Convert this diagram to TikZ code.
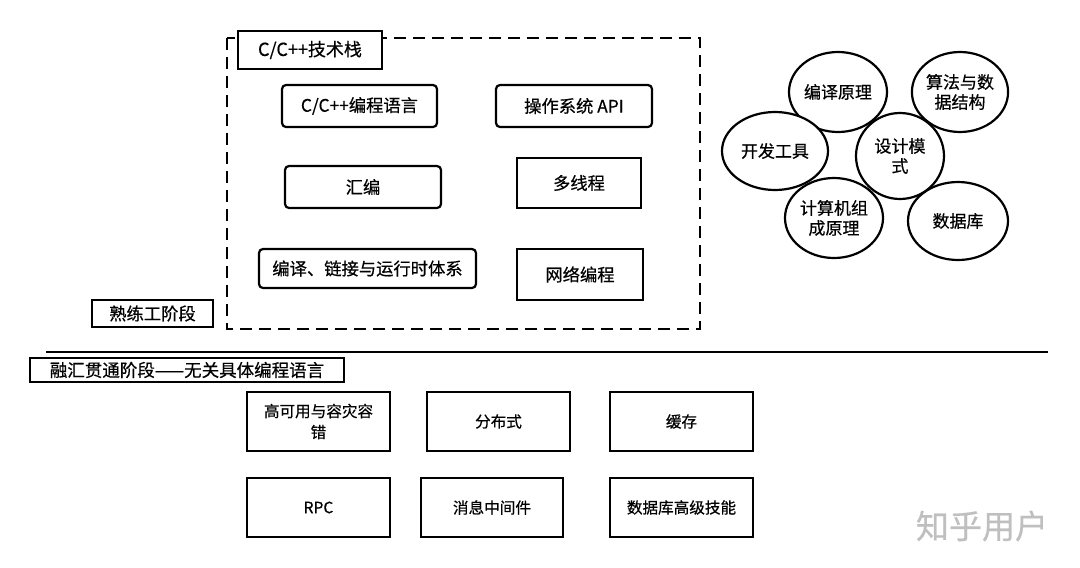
\documentclass[tikz,border=0pt]{standalone}
\usepackage{fontspec}
\setmainfont{Noto Sans CJK SC}[FakeBold=0.5]
\usetikzlibrary{shapes.geometric}

\tikzset{
  box/.style={draw=black, line width=2.2pt, fill=white, inner sep=0pt,
    font=\fontsize{17.3}{21}\selectfont, align=center},
  roundbox/.style={box, rounded corners=4pt},
  lowbox/.style={box, minimum width=143pt, minimum height=59pt,
    font=\fontsize{15.6}{21}\selectfont},
  topic/.style={draw=black, line width=2.2pt, fill=white, ellipse, inner sep=0pt,
    font=\fontsize{17}{20}\selectfont, align=center}
}

\begin{document}
\begin{tikzpicture}[x=1pt, y=-1pt]
\useasboundingbox (0,0) rectangle (1080,568);

% c/c++ stack frame
\draw[line width=2.2pt, dash pattern=on 12pt off 7pt] (227,38) rectangle (700,329);
\node[box, minimum width=144pt, minimum height=38pt, font=\fontsize{18}{21}\selectfont] (stack) at (310,50) {C/C++技术栈};

\node[roundbox, minimum width=155pt, minimum height=42pt] (lang)   at (359.5,106) {C/C++编程语言};
\node[roundbox, minimum width=156pt, minimum height=42pt] (osapi)  at (574,106)   {操作系统 API};
\node[roundbox, minimum width=156pt, minimum height=42pt] (asm)    at (363,187)   {汇编};
\node[box,      minimum width=124pt, minimum height=50pt] (thread) at (579,183)   {多线程};
\node[roundbox, minimum width=217pt, minimum height=39pt] (link)   at (367.5,268.5) {编译、链接与运行时体系};
\node[box,      minimum width=126pt, minimum height=51pt] (net)    at (580,274.5) {网络编程};

\node[box, minimum width=121pt, minimum height=27pt] (skilled) at (152.5,313.5) {熟练工阶段};

% basics
\node[topic, minimum width=98pt,  minimum height=80pt] (compiler) at (838,92)  {编译原理};
\node[topic, minimum width=94pt,  minimum height=80pt] (algo)     at (960,92)  {算法与数\\据结构};
\node[topic, minimum width=106pt, minimum height=78pt] (tools)    at (775,151) {开发工具};
\node[topic, minimum width=98pt,  minimum height=80pt] (arch)     at (834,218) {计算机组\\成原理};
\node[topic, minimum width=100pt, minimum height=78pt] (dbase)    at (958,221) {数据库};
\node[topic, minimum width=88pt,  minimum height=86pt] (pattern)  at (900,156) {设计模\\式};

% separator
\coordinate (sepL) at (46,352);
\coordinate (sepR) at (1048,352);
\draw[line width=2.2pt] (sepL) -- (sepR);

\node[box, minimum width=314pt, minimum height=24pt, font=\fontsize{17.5}{21}\selectfont] (master) at (187,370) {融汇贯通阶段——无关具体编程语言};

\node[lowbox] (ha)    at (318.5,421.5) {高可用与容灾容\\错};
\node[lowbox] (dist)  at (498.5,421.5) {分布式};
\node[lowbox] (cache) at (681.5,421.5) {缓存};
\node[lowbox] (rpc)   at (318.5,507.5) {RPC};
\node[lowbox, minimum width=142pt] (mq) at (492,507.5) {消息中间件};
\node[lowbox] (db)    at (681.5,507.5) {数据库高级技能};

% watermark
\node[text=black!25, font=\fontsize{33}{33}\selectfont, inner sep=0pt] (mark) at (982,526) {知乎用户};

\end{tikzpicture}
\end{document}
